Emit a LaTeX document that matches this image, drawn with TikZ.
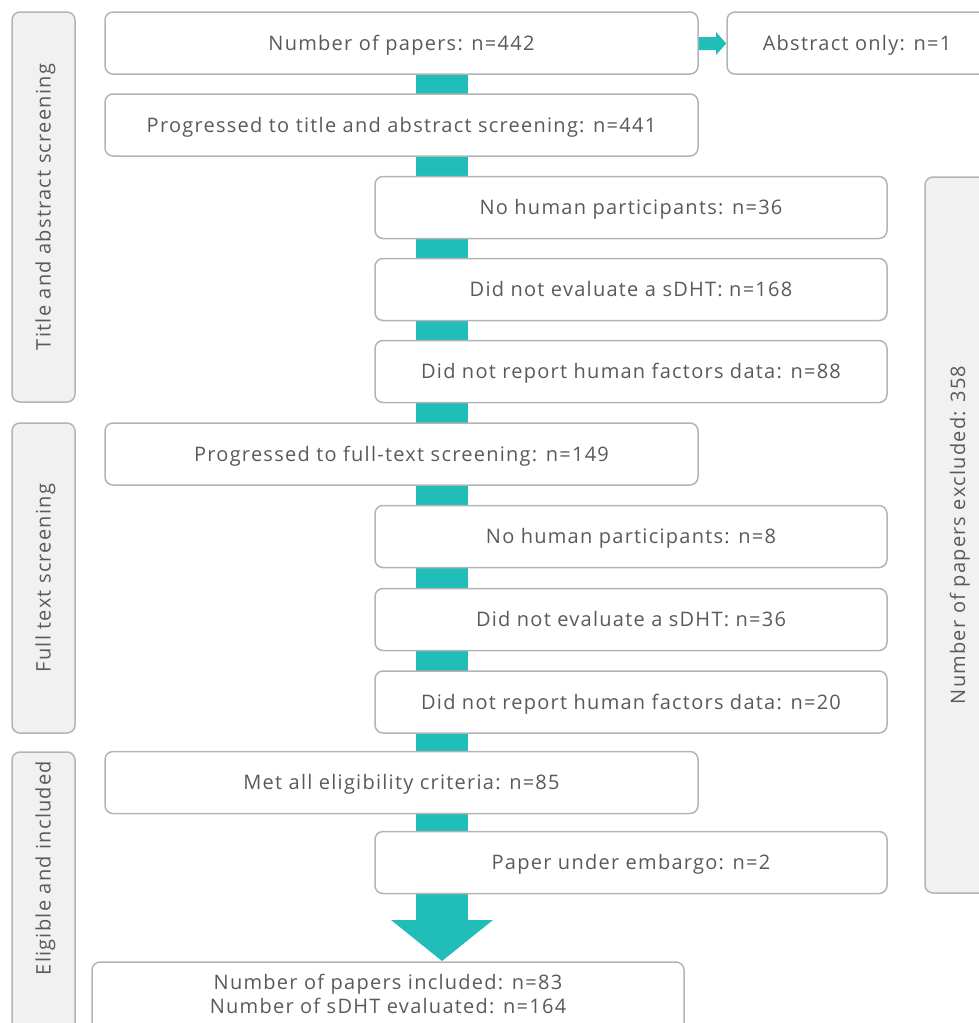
\documentclass[tikz,border=0pt]{standalone}
\usepackage{fontspec}
\setmainfont{Open Sans}[LetterSpace=6.3]
\definecolor{teal1}{HTML}{21BDB8}
\definecolor{txt}{HTML}{5A5A5A}
\definecolor{bord}{HTML}{B4B4B4}
\definecolor{sidefill}{HTML}{F1F1F1}
\begin{document}
\begin{tikzpicture}[x=1pt,y=-1pt,
  box/.style={draw=bord,line width=1.5pt,rounded corners=8pt,fill=white,inner sep=0pt},
  side/.style={draw=bord,line width=1.5pt,rounded corners=8pt,fill=sidefill,inner sep=0pt},
  lbl/.style={text=txt,font=\fontsize{20}{24}\selectfont,inner sep=0pt,text height=14pt,text depth=0pt},
  sidelbl/.style={lbl,rotate=90}
]
\useasboundingbox (0,0) rectangle (979,1023);
\clip (0,0) rectangle (979,1023);
% main teal bar
\fill[teal1] (416,74) rectangle (468,921);
\fill[teal1] (391,920) -- (493,920) -- (442,961) -- cycle;
% side labels
\node[side,minimum width=63pt,minimum height=390pt] (s1) at (43.5,207) {};
\node[sidelbl] (s1t) at (s1.center) {Title and abstract screening};
\node[side,minimum width=63pt,minimum height=310pt] (s2) at (43.5,578) {};
\node[sidelbl] (s2t) at (s2.center) {Full text screening};
\node[side,minimum width=63pt,minimum height=300pt] (s3) at (43.5,902) {};
\node[sidelbl] (s3t) at (43.5,868) {Eligible and included};
\node[side,minimum width=66pt,minimum height=716pt] (s4) at (958,535) {};
\node[sidelbl] (s4t) at (s4.center) {Number of papers excluded: 358};
% left column
\node[box,minimum width=593pt,minimum height=62pt] (b1) at (401.5,43) {};
\node[lbl] at (b1.center) {Number of papers: n=442};
\node[box,minimum width=593pt,minimum height=62pt] (b2) at (401.5,125) {};
\node[lbl] at (b2.center) {Progressed to title and abstract screening: n=441};
\node[box,minimum width=593pt,minimum height=62pt] (b5) at (401.5,454) {};
\node[lbl] at (b5.center) {Progressed to full-text screening: n=149};
\node[box,minimum width=593pt,minimum height=62pt] (b9) at (401.5,782.5) {};
\node[lbl] at (b9.center) {Met all eligibility criteria: n=85};
% abstract only
\node[box,minimum width=260pt,minimum height=62pt] (ab) at (857,43) {};
\node[lbl] at (ab.center) {Abstract only: n=1};
% right column
\node[box,minimum width=512pt,minimum height=62pt] (r1) at (631,207.5) {};
\node[lbl] at (r1.center) {No human participants: n=36};
\node[box,minimum width=512pt,minimum height=62pt] (r2) at (631,289.5) {};
\node[lbl] at (r2.center) {Did not evaluate a sDHT: n=168};
\node[box,minimum width=512pt,minimum height=62pt] (r3) at (631,371.5) {};
\node[lbl] at (r3.center) {Did not report human factors data: n=88};
\node[box,minimum width=512pt,minimum height=62pt] (r4) at (631,536.5) {};
\node[lbl] at (r4.center) {No human participants: n=8};
\node[box,minimum width=512pt,minimum height=62pt] (r5) at (631,619.5) {};
\node[lbl] at (r5.center) {Did not evaluate a sDHT: n=36};
\node[box,minimum width=512pt,minimum height=62pt] (r6) at (631,702) {};
\node[lbl] at (r6.center) {Did not report human factors data: n=20};
\node[box,minimum width=512pt,minimum height=62pt] (r7) at (631,862.5) {};
\node[lbl] at (r7.center) {Paper under embargo: n=2};
% final
\node[box,minimum width=592pt,minimum height=80pt] (fin) at (388,1002) {};
\node[lbl] (f1) at (388,982) {Number of papers included: n=83};
\node[lbl] (f2) at (388,1006) {Number of sDHT evaluated: n=164};
% small arrow
\fill[teal1] (b1.east |- 0,37) -- (716,37) -- (716,32) -- (ab.west |- 0,43.5) -- (716,55) -- (716,50) -- (b1.east |- 0,50) -- cycle;
\end{tikzpicture}
\end{document}
